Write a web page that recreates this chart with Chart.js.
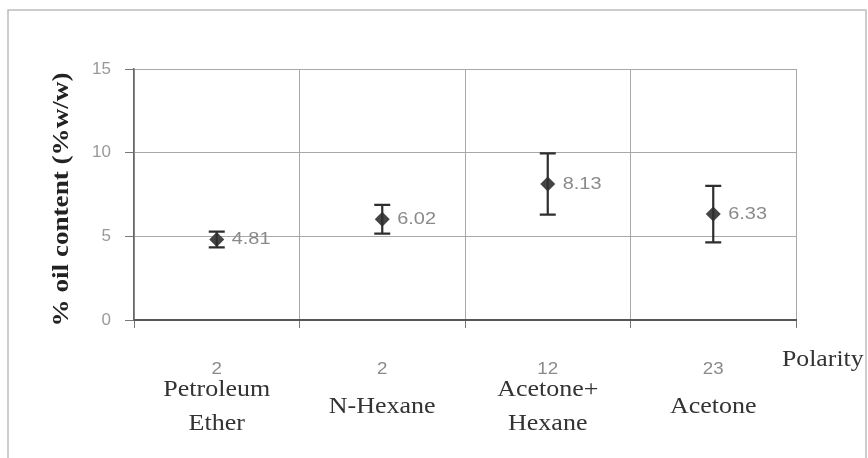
<!DOCTYPE html>
<html>
<head>
<meta charset="utf-8">
<script src="https://cdn.jsdelivr.net/npm/chart.js@4/dist/chart.umd.min.js"></script>
<style>
html,body{margin:0;padding:0;background:#fff;}
#wrap{position:relative;width:868px;height:458px;}
</style>
</head>
<body>
<div id="wrap"><canvas id="c"></canvas></div>
<script>
// data
const categories=[['Petroleum','Ether'],['N-Hexane'],['Acetone+','Hexane'],['Acetone']];
const polarity=['2','2','12','23'];
const oilContent=[4.81,6.02,8.13,6.33];
const errors=[0.47,0.86,1.83,1.69];
const yTicks=[0,5,10,15];
const yTitle='% oil content (%w/w)';
const xTitle='Polarity';

const SX=1.17; // the scan is a bit stretched sideways

function stretchText(ctx,txt,x,y,align,sx){
  ctx.save();
  ctx.translate(x,y);
  ctx.scale(sx,1);
  ctx.textAlign=align;
  ctx.fillText(txt,0,0);
  ctx.restore();
}

const extras={
  id:'extras',
  afterDatasetsDraw(chart){
    const ctx=chart.ctx, xs=chart.scales.x, ys=chart.scales.y;
    // error bars
    ctx.save();
    ctx.strokeStyle='#2e2e2e';
    ctx.lineWidth=2.2;
    oilContent.forEach((v,i)=>{
      const x=xs.getPixelForValue(i);
      const top=ys.getPixelForValue(v+errors[i]);
      const bot=ys.getPixelForValue(v-errors[i]);
      ctx.beginPath();
      ctx.moveTo(x,top);ctx.lineTo(x,bot);
      ctx.moveTo(x-8,top);ctx.lineTo(x+8,top);
      ctx.moveTo(x-8,bot);ctx.lineTo(x+8,bot);
      ctx.stroke();
    });
    // value labels
    ctx.fillStyle='#8a8a8a';
    ctx.font='17px "Liberation Sans", Arial, sans-serif';
    ctx.textBaseline='middle';
    oilContent.forEach((v,i)=>{
      const x=xs.getPixelForValue(i), y=ys.getPixelForValue(v);
      stretchText(ctx,v.toFixed(2),x+15,y,'left',SX);
    });
    ctx.restore();
  },
  afterDraw(chart){
    const ctx=chart.ctx, xs=chart.scales.x, area=chart.chartArea;
    ctx.save();
    // frame of the pasted figure
    ctx.strokeStyle='#bdbdbd';
    ctx.lineWidth=1.5;
    ctx.beginPath();
    ctx.moveTo(8,458);ctx.lineTo(8,10);ctx.lineTo(866,10);ctx.lineTo(866,458);
    ctx.stroke();
    ctx.textBaseline='middle';
    // polarity numbers and solvent names
    categories.forEach((lines,i)=>{
      const x=xs.getPixelForValue(i);
      ctx.fillStyle='#8a8a8a';
      ctx.font='16px "Liberation Sans", Arial, sans-serif';
      stretchText(ctx,polarity[i],x,area.bottom+50,'center',SX);
      ctx.fillStyle='#333';
      ctx.font='23px "Liberation Serif", "Times New Roman", serif';
      const lh=34;
      const y0=area.bottom+87-(lines.length-1)*lh/2;
      lines.forEach((t,k)=>stretchText(ctx,t,x,y0+k*lh,'center',1.13));
    });
    ctx.fillStyle='#333';
    ctx.font='23px "Liberation Serif", "Times New Roman", serif';
    stretchText(ctx,xTitle,area.right-14,area.bottom+40,'left',1.12);
    // y title
    ctx.save();
    ctx.translate(62,(area.top+area.bottom)/2+5);
    ctx.rotate(-Math.PI/2);
    ctx.scale(1.13,1);
    ctx.fillStyle='#222';
    ctx.font='bold 24px "Liberation Serif", "Times New Roman", serif';
    ctx.textAlign='center';
    ctx.fillText(yTitle,0,0);
    ctx.restore();
    ctx.restore();
  }
};

new Chart(document.getElementById('c'),{
  type:'line',
  data:{
    labels:categories,
    datasets:[{
      data:oilContent,
      showLine:false,
      pointStyle:'rectRot',
      pointRadius:7.5,
      pointHoverRadius:7.5,
      backgroundColor:'#444',
      borderColor:'#444',
      borderWidth:0
    }]
  },
  options:{
    responsive:true,
    maintainAspectRatio:false,
    animation:false,
    events:[],
    layout:{padding:{left:0,right:72,top:69,bottom:0}},
    plugins:{legend:{display:false},tooltip:{enabled:false}},
    scales:{
      x:{
        offset:true,
        grid:{offset:true,color:'#a8a8a8',lineWidth:1,tickLength:8,tickColor:'#777'},
        border:{color:'#555',width:2},
        ticks:{display:false},
        afterFit(s){s.height=138;}
      },
      y:{
        min:0,max:15,
        afterBuildTicks(s){s.ticks=yTicks.map(v=>({value:v}));},
        grid:{color:'#a8a8a8',lineWidth:1,tickLength:9,tickColor:'#777'},
        border:{color:'#666',width:1.5},
        ticks:{color:'#999',padding:14,font:{family:'"Liberation Sans", Arial, sans-serif',size:17}},
        afterFit(s){s.width=134;}
      }
    }
  },
  plugins:[extras]
});
</script>
</body>
</html>
